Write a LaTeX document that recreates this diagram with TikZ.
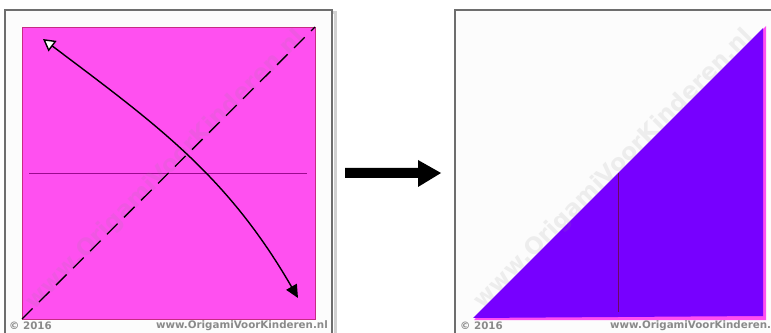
\documentclass[tikz,border=0pt]{standalone}
\usepackage{fontspec}
\usepackage{tikz}
\usetikzlibrary{arrows.meta}
\newfontfamily\markfont{DejaVu Sans}
\definecolor{sheetpink}{HTML}{FF50F0}
\definecolor{sheetviolet}{HTML}{7700FF}
\definecolor{creaseplum}{HTML}{9A0A8E}
\definecolor{framegray}{HTML}{6E6E6E}
\definecolor{markgray}{HTML}{8A8A8A}

\begin{document}
\begin{tikzpicture}[x=1pt,y=1pt,>=Triangle]
  \tikzstyle{frame}=[draw=framegray, line width=2.6pt, fill=white!99!black]
  \tikzstyle{shadow}=[draw=black, opacity=0.18, line width=3pt]
  \tikzstyle{crease}=[draw=creaseplum, line width=0.8pt]
  \tikzstyle{valley}=[draw=black, line width=1.3pt, dash pattern=on 15pt off 9pt]
  \tikzstyle{foldarrow}=[draw=black, line width=1.4pt]
  \tikzstyle{footer}=[font=\markfont\bfseries\fontsize{10.3}{12}\selectfont, text=markgray, inner sep=0pt]
  \tikzstyle{watermark}=[font=\markfont\bfseries\fontsize{23}{25}\selectfont, text=markgray, opacity=0.13, rotate=45, inner sep=0pt]

  \useasboundingbox (0,0) rectangle (771,332);
  \clip (0,0) rectangle (771,332);

  % step 1: square with diagonal fold
  \draw[shadow] (8,319) rectangle (335,-13);
  \draw[frame] (5,322) rectangle (332,-10);
  \fill[sheetpink, draw=magenta!80!black, line width=0.4pt] (22,13) rectangle (315,305);
  \coordinate (bl) at (22,13);
  \coordinate (tr) at (315,305);
  \coordinate (midl) at (29,159);
  \coordinate (midr) at (307,159);
  \draw[crease] (midl) -- (midr);
  \node[watermark] (markA) at (166,162) {www.OrigamiVoorKinderen.nl};
  \draw[valley] (bl) -- (tr);
  \coordinate (from) at (43,293);
  \coordinate (to) at (298,34);
  \draw[foldarrow, {Triangle[open, fill=white, length=12pt, width=13pt]}-{Triangle[length=13pt, width=12pt]}]
    (from) to[out=-37, in=120] (to);
  \node[footer, anchor=west] (yearA) at (9,6) {© 2016};
  \node[footer, anchor=east] (siteA) at (328,6) {www.OrigamiVoorKinderen.nl};

  % next step arrow
  \fill[black] (345,154) -- (418,154) -- (418,145) -- (441,159) --
    (418,172) -- (418,164) -- (345,164) -- cycle;

  % step 2: folded triangle
  \draw[shadow] (458,319) rectangle (795,-13);
  \draw[frame] (455,322) rectangle (792,-10);
  \fill[sheetpink] (474,12) -- (766,306) -- (766,12) -- cycle;
  \fill[sheetviolet] (473,14) -- (763,304) -- (763,16) -- cycle;
  \coordinate (edge) at (618,159);
  \coordinate (foot) at (618,20);
  \draw[draw=creaseplum!70!black, line width=0.8pt] (edge) -- (foot);
  \node[watermark] (markB) at (614,163) {www.OrigamiVoorKinderen.nl};
  \node[footer, anchor=west] (yearB) at (460,6) {© 2016};
  \node[footer, anchor=west] (siteB) at (610,6) {www.OrigamiVoorKinderen.nl};
\end{tikzpicture}
\end{document}
